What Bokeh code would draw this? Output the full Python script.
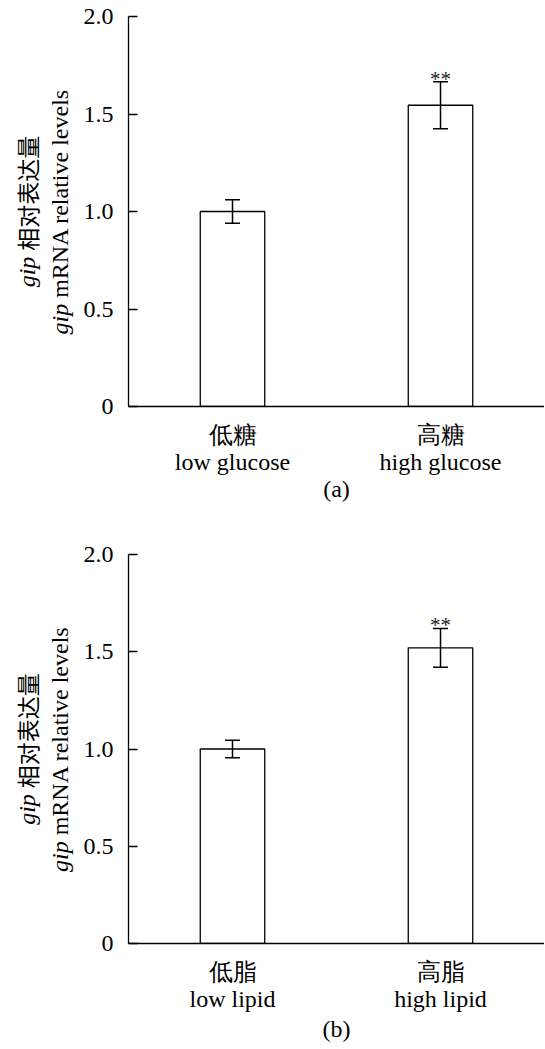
import math
from bokeh.plotting import figure
from bokeh.models import Range1d, FixedTicker, Whisker, ColumnDataSource, TeeHead
from bokeh.layouts import column, row
from bokeh.embed import file_html
from bokeh.resources import INLINE
from bokeh.core.properties import value

# ---- data ----
cats_a = ["低糖\nlow glucose", "高糖\nhigh glucose"]
means_a = [1.00, 1.545]
errs_a = [0.06, 0.12]
sig_a = ["", "**"]

cats_b = ["低脂\nlow lipid", "高脂\nhigh lipid"]
means_b = [1.00, 1.52]
errs_b = [0.045, 0.10]
sig_b = ["", "**"]

y_ticks = [0, 0.5, 1.0, 1.5, 2.0]
y_tick_labels = ["0", "0.5", "1.0", "1.5", "2.0"]
panel_labels = ["(a)", "(b)"]
ylabel_line1 = ["gip", "相对表达量"]
ylabel_line2 = ["gip", "mRNA relative levels"]

SERIF = "Liberation Serif"
CJK = "Noto Sans CJK SC"
FS = 24
TOTAL_W = 544
LAB_W = 78      # width of the y-label strip
MAIN_W = TOTAL_W - LAB_W
BORDER_L = 50
BORDER_T = 16


def make_label_fig(height, border_bottom):
    # the row aligns this strip's frame with the neighbouring plot frame
    frame_h = height - BORDER_T - border_bottom
    cy = frame_h / 2.0
    q = figure(width=LAB_W, height=height, x_range=Range1d(0, LAB_W), y_range=Range1d(0, frame_h),
               output_backend="svg", toolbar_location=None, x_axis_type=None, y_axis_type=None,
               min_border_left=0, min_border_right=0, min_border_top=0, min_border_bottom=0)
    q.outline_line_color = None
    q.xgrid.visible = False
    q.ygrid.visible = False
    gip_w = 1.278 * FS
    sp = 0.25 * FS
    # line 2 (closer to the axis)
    L2 = 10.249 * FS
    j2 = cy - L2 / 2.0 + gip_w
    x2 = 59
    q.text(x=[x2], y=[j2], text=[ylabel_line2[0]], angle=math.pi / 2,
           text_font=value(SERIF), text_font_style="italic", text_font_size=f"{FS}px",
           text_align="right", text_baseline="middle", text_color="black")
    q.text(x=[x2], y=[j2 + sp], text=[ylabel_line2[1]], angle=math.pi / 2,
           text_font=value(SERIF), text_font_size=f"{FS}px",
           text_align="left", text_baseline="middle", text_color="black")
    # line 1
    cjk_fs = FS - 1
    L1 = gip_w + sp + 5 * cjk_fs
    j1 = cy - L1 / 2.0 + gip_w
    x1 = 26
    q.text(x=[x1], y=[j1], text=[ylabel_line1[0]], angle=math.pi / 2,
           text_font=value(SERIF), text_font_style="italic", text_font_size=f"{FS}px",
           text_align="right", text_baseline="middle", text_color="black")
    q.text(x=[x1], y=[j1 + sp], text=[ylabel_line1[1]], angle=math.pi / 2,
           text_font=value(CJK), text_font_size=f"{cjk_fs}px",
           text_align="left", text_baseline="middle", text_color="black")
    return q


def make_panel(cats, means, errs, sig, plabel, height, border_bottom, label_standoff):
    xs = [i + 0.5 for i in range(len(cats))]
    p = figure(width=MAIN_W, height=height, x_range=Range1d(0, 2), y_range=Range1d(0, 2),
               output_backend="svg", toolbar_location=None,
               min_border_left=BORDER_L, min_border_right=0, min_border_top=BORDER_T,
               min_border_bottom=border_bottom)
    p.outline_line_color = None
    p.xgrid.visible = False
    p.ygrid.visible = False

    src = ColumnDataSource(dict(x=xs, top=means,
                                upper=[m + e for m, e in zip(means, errs)],
                                lower=[m - e for m, e in zip(means, errs)],
                                sig=sig))
    p.vbar(x="x", top="top", bottom=0, width=0.31, source=src,
           fill_color="white", line_color="black", line_width=1.3)
    w = Whisker(base="x", upper="upper", lower="lower", source=src, level="overlay",
                line_color="black", line_width=1.5,
                upper_head=TeeHead(size=15, line_width=1.5, line_color="black"),
                lower_head=TeeHead(size=15, line_width=1.5, line_color="black"))
    p.add_layout(w)
    p.text(x="x", y="upper", text="sig", source=src, text_font=value(SERIF),
           text_font_size="21px", text_align="center", text_baseline="alphabetic",
           text_color="#222222", y_offset=-3)

    ya = p.yaxis[0]
    ya.ticker = FixedTicker(ticks=y_ticks)
    ya.major_label_overrides = {t: l for t, l in zip(y_ticks, y_tick_labels)}
    ya.major_tick_in = 9
    ya.major_tick_out = 0
    ya.minor_tick_line_color = None
    ya.major_label_standoff = 15
    ya.axis_line_width = 1.3
    ya.major_tick_line_width = 1.3
    ya.axis_line_color = "black"
    ya.major_tick_line_color = "black"
    ya.major_label_text_font = SERIF
    ya.major_label_text_font_size = f"{FS}px"
    ya.major_label_text_color = "black"

    xa = p.xaxis[0]
    xa.ticker = FixedTicker(ticks=xs)
    xa.major_label_overrides = {x: c for x, c in zip(xs, cats)}
    xa.major_tick_line_color = None
    xa.minor_tick_line_color = None
    xa.axis_line_width = 1.3
    xa.axis_line_color = "black"
    xa.major_label_standoff = 9
    xa.major_label_text_font = SERIF
    xa.major_label_text_font_size = f"{FS}px"
    xa.major_label_text_color = "black"
    xa.major_label_text_line_height = 1.05
    xa.axis_label = plabel
    xa.axis_label_text_font = SERIF
    xa.axis_label_text_font_style = "normal"
    xa.axis_label_text_font_size = f"{FS}px"
    xa.axis_label_text_color = "black"
    xa.axis_label_standoff = label_standoff
    return p


HA, BA = 538, 132      # frame a: y 16 .. 406
HB, BB = 510, 105      # frame b: y 554 .. 943
pa = make_panel(cats_a, means_a, errs_a, sig_a, panel_labels[0], HA, BA, -2)
pb = make_panel(cats_b, means_b, errs_b, sig_b, panel_labels[1], HB, BB, 1)
la = make_label_fig(HA, BA)
lb = make_label_fig(HB, BB)

layout = column(row(la, pa), row(lb, pb))
open("out.html", "w").write(file_html(layout, INLINE))
